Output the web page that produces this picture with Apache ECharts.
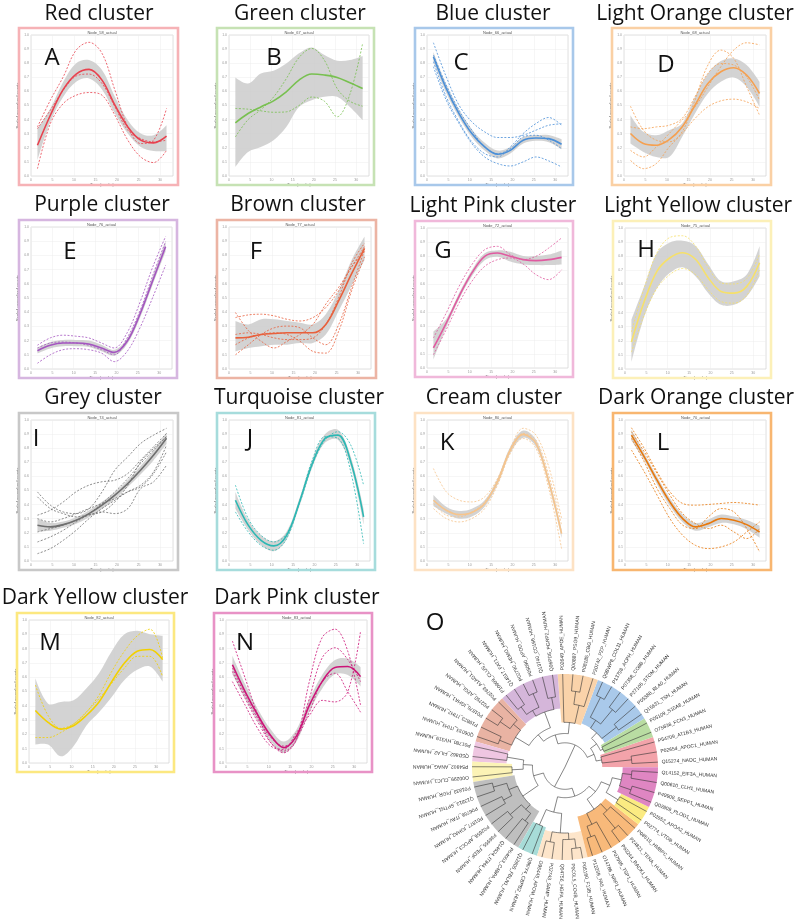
<!DOCTYPE html>
<html><head><meta charset="utf-8">
<script src="https://cdn.jsdelivr.net/npm/echarts@6/dist/echarts.min.js"></script>
<style>html,body{margin:0;padding:0;background:#fff}#c{width:800px;height:919px}</style>
</head><body><div id="c"></div>
<script>
// ---------- DATA ----------
const weeks = [1.5, 4.5, 7.5, 10.5, 13.5, 16.5, 19.5, 22.5, 25.5, 28.5, 31.5];
const clusterNames = ['Red cluster','Green cluster','Blue cluster','Light Orange cluster','Purple cluster','Brown cluster','Light Pink cluster','Light Yellow cluster','Grey cluster','Turquoise cluster','Cream cluster','Dark Orange cluster','Dark Yellow cluster','Dark Pink cluster'];
const panelLetters = ['A','B','C','D','E','F','G','H','I','J','K','L','M','N'];
const nodeTitles = ['Node_58_actual','Node_67_actual','Node_66_actual','Node_68_actual','Node_76_actual','Node_77_actual','Node_72_actual','Node_75_actual','Node_74_actual','Node_81_actual','Node_80_actual','Node_70_actual','Node_82_actual','Node_83_actual'];

const redMean  = [0.218,0.431,0.614,0.723,0.756,0.680,0.502,0.348,0.254,0.235,0.282];
const redLower = [0.111,0.384,0.562,0.668,0.692,0.614,0.443,0.301,0.206,0.178,0.178];
const redUpper = [0.336,0.479,0.668,0.800,0.822,0.751,0.562,0.396,0.301,0.289,0.360];
const redGenes = [
  [0.348,0.538,0.704,0.893,0.948,0.870,0.609,0.348,0.230,0.254,0.479],
  [0.052,0.372,0.514,0.573,0.592,0.573,0.431,0.254,0.135,0.095,0.182],
  [0.336,0.467,0.609,0.709,0.723,0.656,0.491,0.325,0.265,0.242,0.254]];

const greenMean  = [0.377,0.443,0.490,0.533,0.597,0.680,0.723,0.716,0.699,0.661,0.621];
const greenLower = [0.064,0.171,0.206,0.254,0.348,0.490,0.538,0.562,0.562,0.490,0.396];
const greenUpper = [0.699,0.656,0.727,0.746,0.798,0.870,0.912,0.858,0.818,0.822,0.851];
const greenGenes = [
  [0.277,0.400,0.470,0.560,0.690,0.840,0.905,0.820,0.620,0.530,0.495],
  [0.479,0.474,0.462,0.452,0.455,0.500,0.560,0.530,0.420,0.580,0.941]];

const blueMean  = [0.846,0.621,0.443,0.301,0.206,0.154,0.182,0.254,0.270,0.265,0.225];
const blueLower = [0.810,0.590,0.415,0.275,0.180,0.125,0.160,0.230,0.250,0.240,0.190];
const blueUpper = [0.880,0.650,0.470,0.330,0.235,0.180,0.205,0.275,0.290,0.290,0.260];
const blueGenes = [
  [0.945,0.704,0.502,0.384,0.313,0.273,0.273,0.289,0.325,0.360,0.370],
  [0.775,0.538,0.372,0.230,0.135,0.088,0.071,0.100,0.135,0.107,0.064],
  [0.810,0.562,0.384,0.242,0.159,0.135,0.206,0.301,0.372,0.415,0.360],
  [0.858,0.645,0.467,0.325,0.206,0.159,0.194,0.277,0.289,0.254,0.194]];

const lightOrangeMean  = [0.301,0.230,0.218,0.258,0.348,0.502,0.656,0.739,0.768,0.716,0.585];
const lightOrangeLower = [0.230,0.171,0.135,0.135,0.277,0.443,0.585,0.668,0.699,0.633,0.491];
const lightOrangeUpper = [0.431,0.313,0.289,0.325,0.372,0.562,0.727,0.815,0.834,0.787,0.668];
const lightOrangeGenes = [
  [0.495,0.325,0.254,0.242,0.313,0.538,0.787,0.893,0.834,0.633,0.431],
  [0.182,0.135,0.206,0.301,0.396,0.491,0.633,0.775,0.893,0.945,0.930],
  [0.111,0.052,0.088,0.206,0.301,0.408,0.491,0.533,0.545,0.526,0.479],
  [0.348,0.336,0.348,0.360,0.408,0.562,0.727,0.798,0.787,0.704,0.538]];

const purpleMean  = [0.129,0.167,0.183,0.183,0.176,0.148,0.117,0.195,0.386,0.624,0.862];
const purpleLower = [0.110,0.145,0.160,0.160,0.155,0.125,0.095,0.175,0.360,0.595,0.825];
const purpleUpper = [0.150,0.190,0.205,0.205,0.200,0.170,0.135,0.215,0.410,0.655,0.900];
const purpleGenes = [
  [0.167,0.219,0.238,0.231,0.219,0.183,0.148,0.255,0.469,0.719,0.933],
  [0.040,0.100,0.136,0.143,0.136,0.112,0.052,0.124,0.290,0.505,0.731],
  [0.148,0.183,0.190,0.183,0.167,0.136,0.100,0.219,0.410,0.660,0.898]];

const brownMean  = [0.219,0.224,0.243,0.250,0.255,0.255,0.255,0.314,0.481,0.671,0.850];
const brownLower = [0.124,0.148,0.160,0.171,0.171,0.183,0.183,0.243,0.410,0.588,0.767];
const brownUpper = [0.338,0.314,0.350,0.350,0.338,0.326,0.314,0.386,0.552,0.767,0.933];
const brownGenes = [
  [0.398,0.271,0.195,0.148,0.195,0.243,0.314,0.457,0.576,0.719,0.862],
  [0.362,0.381,0.386,0.374,0.350,0.338,0.362,0.433,0.552,0.719,0.826],
  [0.100,0.171,0.243,0.290,0.302,0.290,0.219,0.171,0.314,0.576,0.838],
  [0.243,0.255,0.243,0.219,0.207,0.207,0.219,0.314,0.505,0.743,0.886],
  [0.171,0.219,0.243,0.255,0.243,0.195,0.124,0.112,0.267,0.552,0.790]];

const lightPinkMean  = [0.143,0.321,0.512,0.679,0.798,0.821,0.798,0.774,0.767,0.774,0.790];
const lightPinkLower = [0.060,0.290,0.490,0.655,0.770,0.795,0.760,0.740,0.735,0.735,0.740];
const lightPinkUpper = [0.260,0.350,0.535,0.700,0.820,0.840,0.830,0.800,0.800,0.810,0.840];
const lightPinkGenes = [
  [0.214,0.393,0.583,0.738,0.845,0.869,0.810,0.774,0.798,0.857,0.929],
  [0.095,0.274,0.464,0.619,0.726,0.774,0.786,0.743,0.667,0.631,0.702]];

const lightYellowMean  = [0.191,0.478,0.694,0.789,0.825,0.778,0.646,0.550,0.538,0.586,0.754];
const lightYellowLower = [0.048,0.371,0.574,0.682,0.722,0.658,0.538,0.455,0.455,0.514,0.658];
const lightYellowUpper = [0.347,0.586,0.825,0.897,0.909,0.873,0.742,0.622,0.622,0.670,0.873];
const lightYellowGenes = [
  [0.263,0.574,0.825,0.933,0.945,0.873,0.718,0.610,0.603,0.641,0.813],
  [0.120,0.383,0.574,0.670,0.713,0.670,0.562,0.478,0.467,0.522,0.706]];

const greyMean  = [0.254,0.242,0.258,0.289,0.336,0.396,0.467,0.550,0.645,0.751,0.870];
const greyLower = [0.210,0.215,0.235,0.265,0.310,0.370,0.440,0.525,0.615,0.715,0.830];
const greyUpper = [0.300,0.270,0.280,0.310,0.360,0.420,0.490,0.575,0.675,0.785,0.910];
const greyGenes = [
  [0.490,0.396,0.348,0.336,0.372,0.490,0.645,0.739,0.834,0.893,0.941],
  [0.455,0.372,0.336,0.313,0.329,0.348,0.419,0.538,0.704,0.798,0.882],
  [0.325,0.360,0.419,0.491,0.538,0.562,0.573,0.621,0.716,0.810,0.905],
  [0.135,0.171,0.218,0.277,0.336,0.408,0.491,0.585,0.692,0.787,0.882],
  [0.052,0.088,0.147,0.218,0.301,0.372,0.431,0.491,0.538,0.633,0.822],
  [0.206,0.230,0.254,0.289,0.325,0.348,0.336,0.372,0.514,0.562,0.680],
  [0.301,0.277,0.301,0.336,0.372,0.408,0.443,0.491,0.526,0.621,0.775]];

const turquoiseMean  = [0.431,0.254,0.147,0.107,0.182,0.419,0.692,0.870,0.893,0.704,0.313];
const turquoiseLower = [0.370,0.220,0.115,0.070,0.155,0.390,0.665,0.840,0.860,0.670,0.260];
const turquoiseUpper = [0.490,0.290,0.180,0.140,0.210,0.445,0.720,0.900,0.930,0.740,0.370];
const turquoiseGenes = [
  [0.538,0.301,0.182,0.135,0.194,0.408,0.680,0.858,0.917,0.822,0.538],
  [0.348,0.206,0.111,0.076,0.159,0.419,0.716,0.882,0.870,0.633,0.123]];

const creamMean  = [0.431,0.360,0.329,0.344,0.408,0.562,0.787,0.898,0.834,0.562,0.194];
const creamLower = [0.390,0.335,0.300,0.315,0.385,0.540,0.765,0.875,0.810,0.535,0.165];
const creamUpper = [0.470,0.385,0.355,0.370,0.430,0.585,0.810,0.925,0.860,0.590,0.225];
const creamGenes = [
  [0.656,0.491,0.431,0.419,0.455,0.585,0.798,0.941,0.893,0.668,0.301],
  [0.372,0.301,0.277,0.301,0.372,0.538,0.763,0.870,0.799,0.514,0.088],
  [0.408,0.325,0.313,0.348,0.419,0.573,0.787,0.905,0.858,0.609,0.254]];

const darkOrangeMean  = [0.893,0.739,0.573,0.419,0.301,0.242,0.265,0.301,0.289,0.258,0.206];
const darkOrangeLower = [0.855,0.715,0.545,0.390,0.275,0.215,0.240,0.270,0.260,0.225,0.165];
const darkOrangeUpper = [0.930,0.765,0.600,0.445,0.330,0.270,0.295,0.330,0.315,0.290,0.250];
const darkOrangeGenes = [
  [0.945,0.799,0.633,0.491,0.408,0.396,0.401,0.408,0.415,0.408,0.396],
  [0.787,0.633,0.467,0.301,0.182,0.111,0.088,0.100,0.135,0.206,0.277],
  [0.870,0.704,0.514,0.372,0.254,0.230,0.313,0.372,0.348,0.230,0.064],
  [0.917,0.775,0.621,0.467,0.336,0.265,0.230,0.254,0.206,0.159,0.230]];

const darkYellowMean  = [0.367,0.284,0.237,0.261,0.332,0.427,0.569,0.699,0.782,0.794,0.723];
const darkYellowLower = [0.130,0.130,0.047,0.118,0.261,0.355,0.462,0.581,0.652,0.675,0.569];
const darkYellowUpper = [0.592,0.415,0.427,0.438,0.521,0.628,0.782,0.900,0.924,0.900,0.889];
const darkYellowGenes = [
  [0.545,0.332,0.242,0.273,0.355,0.474,0.640,0.782,0.889,0.936,0.735],
  [0.178,0.178,0.213,0.273,0.355,0.450,0.557,0.664,0.746,0.746,0.604]];

const darkPinkMean  = [0.687,0.498,0.332,0.190,0.107,0.190,0.403,0.569,0.668,0.675,0.604];
const darkPinkLower = [0.620,0.450,0.290,0.150,0.070,0.150,0.360,0.520,0.620,0.615,0.535];
const darkPinkUpper = [0.750,0.550,0.375,0.235,0.150,0.235,0.445,0.615,0.720,0.730,0.670];
const darkPinkGenes = [
  [0.853,0.592,0.332,0.142,0.071,0.166,0.569,0.877,0.936,0.782,0.403],
  [0.640,0.450,0.284,0.142,0.083,0.166,0.450,0.735,0.806,0.723,0.569],
  [0.569,0.403,0.237,0.118,0.095,0.213,0.332,0.438,0.427,0.498,0.924],
  [0.664,0.474,0.308,0.178,0.118,0.178,0.355,0.569,0.628,0.498,0.355]];

// Dendrogram: internal node = [height(radius fraction), ...children]; leaf = label
const treeRed = [0.40, [0.72, 'Q15274_NADC_HUMAN', 'P02654_APOC1_HUMAN'], 'P54709_AT1B3_HUMAN'];
const treeGreen = [0.45, 'O75636_FCN3_HUMAN', 'P05109_S10A8_HUMAN'];
const treeBlue = [0.50, [0.70, 'Q15631_TSN_HUMAN', 'P05388_RLA0_HUMAN'], [0.60, [0.80, 'P27105_STOM_HUMAN', 'P07358_CO8B_HUMAN'], [0.84, 'P13798_ACPH_HUMAN', 'Q9BWP8_COL11_HUMAN']]];
const treeLightOrange = [0.48, [0.68, 'P20742_PZP_HUMAN', [0.82, 'P08185_CBG_HUMAN', 'Q00887_PSG9_HUMAN']], 'P02649_APOE_HUMAN'];
const treePurple = [0.63, [0.76, 'Q96PD5_PGRP2_HUMAN', 'Q13740_CD166_HUMAN'], [0.70, [0.86, 'P05090_APOD_HUMAN', 'P02790_HEMO_HUMAN'], [0.80, 'Q14517_FAT1_HUMAN', 'P10909_CLUS_HUMAN']]];
const treeBrown = [0.62, [0.72, 'P02763_A1AG1_HUMAN', [0.85, 'P02750_A2GL_HUMAN', 'P01876_IGHA1_HUMAN']], [0.76, 'P19823_ITIH2_HUMAN', 'Q06033_ITIH3_HUMAN']];
const treeLightPink = [0.63, 'P01780_HV319_HUMAN', 'Q5D862_FILA2_HUMAN'];
const treeLightYellow = [0.57, 'P54802_ANAG_HUMAN', 'O00299_CLIC1_HUMAN'];
const treeGrey = [0.55, [0.65, [0.80, 'P01833_PIGR_HUMAN', 'Q13813_SPTN1_HUMAN'], [0.75, 'P06756_ITAV_HUMAN', 'P01877_IGHA2_HUMAN']], [0.62, [0.78, 'P02656_APOC3_HUMAN', 'P36955_PEDF_HUMAN'], [0.72, 'Q14624_ITIH4_HUMAN', 'P04003_C4BPA_HUMAN']]];
const treeTurquoise = [0.68, 'Q12805_FBLN1_HUMAN', 'Q96IY4_CBPB2_HUMAN'];
const treeCream = [0.71, [0.82, 'O95445_APOM_HUMAN', 'P02743_SAMP_HUMAN'], [0.78, 'Q04756_HGFA_HUMAN', [0.88, 'P0C0L5_CO4B_HUMAN', 'P05160_F13B_HUMAN']]];
const treeDarkOrange = [0.55, [0.68, [0.80, 'P12259_FA5_HUMAN', 'O14786_NRP1_HUMAN'], 'P07996_TSP1_HUMAN'], [0.65, [0.85, 'P63244_RACK1_HUMAN', 'P24821_TENA_HUMAN'], 'P08519_HMBPC_HUMAN']];
const treeDarkYellow = [0.67, 'P02774_VTDB_HUMAN', 'P02652_APOA2_HUMAN'];
const treeDarkPink = [0.62, [0.75, 'Q02809_PLOD1_HUMAN', 'P49908_SEPP1_HUMAN'], [0.72, 'Q00610_CLH1_HUMAN', 'Q14152_EIF3A_HUMAN']];
const treeRoot = [0,
  [0.26, [0.34, treeRed, [0.42, treeGreen, treeBlue]], [0.36, treeLightOrange, [0.45, treePurple, treeBrown]]],
  [0.24, [0.35, [0.45, treeLightPink, treeLightYellow], treeGrey], [0.33, [0.50, treeTurquoise, treeCream], [0.42, treeDarkOrange, [0.52, treeDarkYellow, treeDarkPink]]]]];

// ---------- STYLE / LAYOUT ----------
const panels = [
  [redMean, redLower, redUpper, redGenes],
  [greenMean, greenLower, greenUpper, greenGenes],
  [blueMean, blueLower, blueUpper, blueGenes],
  [lightOrangeMean, lightOrangeLower, lightOrangeUpper, lightOrangeGenes],
  [purpleMean, purpleLower, purpleUpper, purpleGenes],
  [brownMean, brownLower, brownUpper, brownGenes],
  [lightPinkMean, lightPinkLower, lightPinkUpper, lightPinkGenes],
  [lightYellowMean, lightYellowLower, lightYellowUpper, lightYellowGenes],
  [greyMean, greyLower, greyUpper, greyGenes],
  [turquoiseMean, turquoiseLower, turquoiseUpper, turquoiseGenes],
  [creamMean, creamLower, creamUpper, creamGenes],
  [darkOrangeMean, darkOrangeLower, darkOrangeUpper, darkOrangeGenes],
  [darkYellowMean, darkYellowLower, darkYellowUpper, darkYellowGenes],
  [darkPinkMean, darkPinkLower, darkPinkUpper, darkPinkGenes]];
const lineColors = ['#e8414e','#78c050','#4a8fd8','#f5a050','#a455c0','#e8603c','#e05aa0','#f6e06a','#6e6e6e','#2cb8b4','#f6c48c','#e8780c','#f2d000','#cc1478'];
const frameColors = ['#f6b2b6','#c6e2b4','#a8c8ea','#fad0a4','#d6b6e0','#ecb4a4','#f0b8da','#fcf0b8','#c8c8c8','#a6dcdc','#fde2c4','#f8b670','#fce880','#e892c6'];
const frames = [[19,28,159,157],[217,28,157,157],[415,28,158,157],[612,28,159,157],[19,220,158,158],[217,220,159,158],[415,221,158,156],[613,221,158,157],[19,413,159,157],[217,413,158,157],[415,413,158,157],[613,413,158,157],[17,613,157,159],[214,613,158,159]];
const titlePos = [[99,14],[300,14],[493,14],[695,14],[102,205],[298,205],[493,206],[698,206],[103,398],[299,398],[494,398],[696,398],[95,598],[297,598]];
const letterPos = [[52,58],[274,58],[461,63],[666,65],[70,252],[256,252],[443,251],[646,250],[36,439],[250,439],[447,443],[663,443],[50,643],[245,643]];
const treeClusters = [treeRed, treeGreen, treeBlue, treeLightOrange, treePurple, treeBrown, treeLightPink, treeLightYellow, treeGrey, treeTurquoise, treeCream, treeDarkOrange, treeDarkYellow, treeDarkPink];
const sectorColors = ['#f3a3aa','#b9dca2','#a9c9ea','#fad3aa','#d5b6da','#e9b3a3','#efc6e1','#fcf3b6','#bfbfbf','#a7dcd8','#fde5ca','#f8b97a','#fbeb82','#df86c2'];

// ---------- HELPERS ----------
// bezier path through pixel points (same style of smoothing as a smooth line)
function smoothSegs(pts, s, start) {
  const n = pts.length, cps = [];
  for (let i = 0; i < n; i++) {
    if (i === 0 || i === n - 1) { cps.push([pts[i], pts[i]]); continue; }
    const v = [pts[i + 1][0] - pts[i - 1][0], pts[i + 1][1] - pts[i - 1][1]];
    const d0 = Math.hypot(pts[i][0] - pts[i - 1][0], pts[i][1] - pts[i - 1][1]);
    const d1 = Math.hypot(pts[i + 1][0] - pts[i][0], pts[i + 1][1] - pts[i][1]);
    const r0 = d0 / (d0 + d1 || 1), r1 = d1 / (d0 + d1 || 1);
    cps.push([[pts[i][0] - v[0] * s * r0, pts[i][1] - v[1] * s * r0], [pts[i][0] + v[0] * s * r1, pts[i][1] + v[1] * s * r1]]);
  }
  let d = start + pts[0][0] + ' ' + pts[0][1];
  for (let i = 0; i < n - 1; i++) {
    const a = cps[i][1], b = cps[i + 1][0], p = pts[i + 1];
    d += ' C' + a[0] + ' ' + a[1] + ' ' + b[0] + ' ' + b[1] + ' ' + p[0] + ' ' + p[1];
  }
  return d;
}

// ---------- BUILD ----------
const FONT = '"Open Sans", "Liberation Sans", sans-serif';
const grids = [], xAxes = [], yAxes = [], series = [], graphics = [];
panels.forEach((p, i) => {
  const [fx, fy, fw, fh] = frames[i];
  const [mean, lower, upper, genes] = p;
  grids.push({left: fx + 12, top: fy + 7, width: fw - 17, height: fh - 16, show: true,
    backgroundColor: '#fff', borderColor: '#cfcfcf', borderWidth: 0.6, outerBoundsMode: 'none', containLabel: false});
  xAxes.push({gridIndex: i, type: 'value', min: 0, max: 33, interval: 5,
    name: 'Time (weeks)', nameLocation: 'middle', nameGap: 5, nameTextStyle: {fontSize: 4, color: '#555'},
    axisLine: {show: false}, axisTick: {show: false},
    axisLabel: {fontSize: 3.5, color: '#999', margin: 2, showMaxLabel: false},
    splitLine: {show: true, lineStyle: {color: '#ececec', width: 0.5}}});
  yAxes.push({gridIndex: i, type: 'value', min: 0, max: 1, interval: 0.1,
    name: 'Scaled normalized counts', nameLocation: 'middle', nameGap: 8, nameRotate: 90,
    nameTextStyle: {fontSize: 4, color: '#555'},
    axisLine: {show: false}, axisTick: {show: false},
    axisLabel: {fontSize: 3.5, color: '#999', margin: 2, formatter: v => v.toFixed(1)},
    splitLine: {show: true, lineStyle: {color: '#ececec', width: 0.5}}});
  const zip = arr => weeks.map((w, k) => [w, arr[k]]);
  // confidence band drawn as a path between the upper and lower bounds
  series.push({type: 'custom', coordinateSystem: 'cartesian2d', xAxisIndex: i, yAxisIndex: i, silent: true, z: 1,
    data: [[weeks[0], mean[0]]],
    renderItem: (params, api) => {
      const up = weeks.map((w, k) => api.coord([w, upper[k]]));
      const lo = weeks.map((w, k) => api.coord([w, lower[k]])).reverse();
      const d = smoothSegs(up, 0.35, 'M') + ' ' + smoothSegs(lo, 0.35, 'L') + ' Z';
      return {type: 'path', shape: {pathData: d}, style: {fill: '#cbcbcb', opacity: 0.85}};
    }});
  genes.forEach(g => series.push({type: 'line', xAxisIndex: i, yAxisIndex: i, data: zip(g), smooth: 0.35, symbol: 'none',
    lineStyle: {color: lineColors[i], width: 0.8, type: [2, 1.6]}, silent: true, z: 3}));
  series.push({type: 'line', xAxisIndex: i, yAxisIndex: i, data: zip(mean), smooth: 0.35, symbol: 'none',
    lineStyle: {color: lineColors[i], width: 1.6}, silent: true, z: 4});
  graphics.push({type: 'rect', shape: {x: fx, y: fy, width: fw, height: fh}, style: {fill: 'none', stroke: frameColors[i], lineWidth: 2.6}, z: 10});
  graphics.push({type: 'text', x: fx + 12 + (fw - 17) / 2, y: fy + 4.5, style: {text: nodeTitles[i], fontSize: 4, fill: '#555', align: 'center', verticalAlign: 'middle', fontFamily: 'Liberation Sans'}, z: 10});
  graphics.push({type: 'text', x: titlePos[i][0], y: titlePos[i][1], style: {text: clusterNames[i], fontSize: 21, fill: '#111', align: 'center', verticalAlign: 'middle', fontFamily: FONT}, z: 10});
  graphics.push({type: 'text', x: letterPos[i][0], y: letterPos[i][1], style: {text: panelLetters[i], fontSize: 24, fill: '#111', align: 'center', verticalAlign: 'middle', fontFamily: FONT}, z: 10});
});
graphics.push({type: 'text', x: 435, y: 623, style: {text: 'O', fontSize: 24, fill: '#111', align: 'center', verticalAlign: 'middle', fontFamily: FONT}, z: 10});

// tree layout
let leafCount = 0;
const leafLabels = [];
const clusterBuilt = new Map();
function build(n) {
  if (typeof n === 'string') { const idx = leafCount++; leafLabels.push(n); return {r: 1, a: idx, leaf: true}; }
  const kids = n.slice(1).map(build);
  const node = {r: n[0], a: (kids[0].a + kids[kids.length - 1].a) / 2, kids};
  if (treeClusters.includes(n)) clusterBuilt.set(n, node);
  return node;
}
const root = build(treeRoot);
function firstLeaf(n) { return n.leaf ? n.a : firstLeaf(n.kids[0]); }
function lastLeaf(n) { return n.leaf ? n.a : lastLeaf(n.kids[n.kids.length - 1]); }

function renderTree(params, api) {
  const cs = params.coordSys;
  const P = (r, a) => api.coord([r, a]);
  const ch = [];
  treeClusters.forEach((t, k) => {
    const node = clusterBuilt.get(t);
    const a0 = firstLeaf(node) - 0.5, a1 = lastLeaf(node) + 0.5;
    const pts = [], steps = 30;
    for (let s = 0; s <= steps; s++) pts.push(P(1.0, a0 + (a1 - a0) * s / steps));
    for (let s = steps; s >= 0; s--) pts.push(P(node.r, a0 + (a1 - a0) * s / steps));
    ch.push({type: 'polygon', shape: {points: pts}, style: {fill: sectorColors[k], stroke: null}});
  });
  const lineStyle = {stroke: '#333', lineWidth: 0.6, fill: null};
  (function walk(n) {
    if (n.leaf) return;
    if (n.r > 0) {
      const a0 = n.kids[0].a, a1 = n.kids[n.kids.length - 1].a;
      const steps = Math.max(4, Math.ceil((a1 - a0) * 4));
      const pts = [];
      for (let s = 0; s <= steps; s++) pts.push(P(n.r, a0 + (a1 - a0) * s / steps));
      ch.push({type: 'polyline', shape: {points: pts}, style: lineStyle});
    }
    n.kids.forEach(k => {
      const p0 = P(n.r, k.a), p1 = P(k.r, k.a);
      ch.push({type: 'line', shape: {x1: p0[0], y1: p0[1], x2: p1[0], y2: p1[1]}, style: lineStyle});
      walk(k);
    });
  })(root);
  leafLabels.forEach((lab, i) => {
    const p = P(1.04, i);
    const th = Math.atan2(cs.cy - p[1], p[0] - cs.cx);
    ch.push({type: 'text', x: p[0], y: p[1], rotation: th,
      style: {text: lab, fontSize: 5, fill: '#333', align: 'left', verticalAlign: 'middle', fontFamily: 'Liberation Sans'}});
  });
  return {type: 'group', children: ch};
}

series.push({type: 'custom', coordinateSystem: 'polar', polarIndex: 0, data: [[0, 0]], renderItem: renderTree, silent: true, z: 5});

const chart = echarts.init(document.getElementById('c'), null, {renderer: 'canvas'});
chart.setOption({
  animation: false,
  backgroundColor: '#fff',
  grid: grids, xAxis: xAxes, yAxis: yAxes,
  polar: {center: [565, 767], radius: 93},
  angleAxis: {type: 'value', min: 0, max: leafCount, startAngle: 3, clockwise: false, show: false},
  radiusAxis: {type: 'value', min: 0, max: 1, show: false},
  graphic: graphics,
  series: series
});
</script></body></html>
